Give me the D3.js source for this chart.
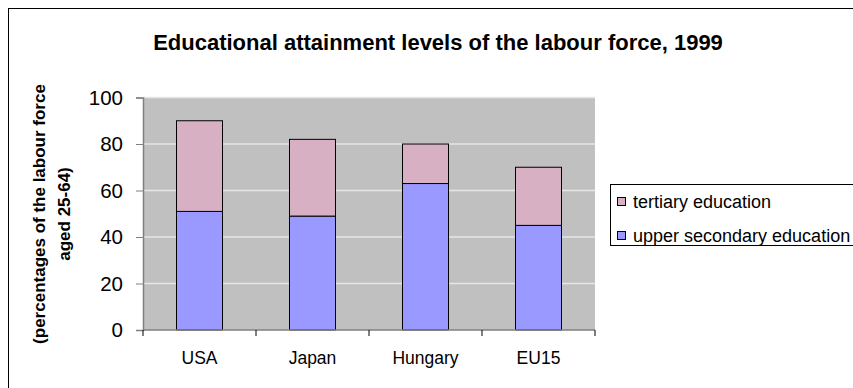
<!DOCTYPE html>
<html><head><meta charset="utf-8">
<script src="https://cdn.jsdelivr.net/npm/d3@7"></script>
<style>body{margin:0;background:#fff;}svg{display:block;font-family:"Liberation Sans",Arial,sans-serif;}</style>
</head><body>
<svg id="c" width="853" height="388"></svg>
<script>
const categories = ["USA", "Japan", "Hungary", "EU15"];
const upperSecondary = [51, 49, 63, 45];
const tertiary = [39, 33, 17, 25];
const seriesNames = ["upper secondary education", "tertiary education"];
const yTicks = [0, 20, 40, 60, 80, 100];
const colors = ["#9999FF", "#D8B0C4"];

const svg = d3.select("#c");
svg.append("rect").attr("x", 8.5).attr("y", 8.5).attr("width", 900).attr("height", 500)
  .attr("fill", "#fff").attr("stroke", "#000").attr("stroke-width", 1);

const L = 143, R = 595, T = 97.5, B = 330;
const x = d3.scaleBand().domain(categories).range([L, R]).paddingInner(0.59).paddingOuter(0.295);
const y = d3.scaleLinear().domain([0, 100]).range([B, T]);

svg.append("rect").attr("x", L).attr("y", T).attr("width", R - L).attr("height", B - T).attr("fill", "#C0C0C0");

svg.append("g").selectAll("line").data(yTicks.filter(d => d > 0)).join("line")
  .attr("x1", L).attr("x2", R).attr("y1", d => y(d)).attr("y2", d => y(d))
  .attr("stroke", "#E6E6E6").attr("stroke-width", 1.5);

const data = categories.map((c, i) => ({c, u: upperSecondary[i], t: tertiary[i]}));
const stack = d3.stack().keys(["u", "t"])(data);
svg.append("g").selectAll("g").data(stack).join("g").attr("fill", (d, i) => colors[i])
  .selectAll("rect").data(d => d).join("rect")
  .attr("x", d => Math.round(x(d.data.c)) + 0.5)
  .attr("width", Math.round(x.bandwidth()))
  .attr("y", d => y(d[1]))
  .attr("height", d => y(d[0]) - y(d[1]))
  .attr("stroke", "#000").attr("stroke-width", 1);

const yAxis = svg.append("g").attr("transform", `translate(${L},0)`)
  .call(d3.axisLeft(y).tickValues(yTicks).tickSize(7).tickPadding(13));
yAxis.select(".domain").attr("stroke", "#808080").attr("stroke-width", 1.5);
yAxis.selectAll(".tick line").attr("stroke", "#808080");
yAxis.selectAll("text").attr("font-size", 20.5).attr("fill", "#000").attr("font-family", "Liberation Sans, Arial, sans-serif");

const xb = d3.scaleOrdinal().domain(categories).range(categories.map(c => x(c) + x.bandwidth() / 2));
const xAxis = svg.append("g").attr("transform", `translate(0,${B})`);
xAxis.append("line").attr("x1", L).attr("x2", R).attr("y1", 0).attr("y2", 0).attr("stroke", "#808080").attr("stroke-width", 1.5);
const bounds = d3.range(categories.length + 1).map(i => L + i * (R - L) / categories.length);
xAxis.selectAll(".tk").data(bounds).join("line").attr("class", "tk")
  .attr("x1", d => d).attr("x2", d => d).attr("y1", 0).attr("y2", 6).attr("stroke", "#000");
xAxis.selectAll("text").data(categories).join("text")
  .attr("x", d => xb(d)).attr("y", 34).attr("text-anchor", "middle").attr("font-size", 17.5).text(d => d);

svg.append("text").attr("x", 438).attr("y", 50).attr("text-anchor", "middle")
  .attr("font-size", 22).attr("font-weight", "bold").text("Educational attainment levels of the labour force, 1999");

const yl = svg.append("text").attr("transform", `translate(0,214) rotate(-90)`)
  .attr("text-anchor", "middle").attr("font-size", 17).attr("font-weight", "bold");
yl.append("tspan").attr("x", 0).attr("y", 45).text("(percentages of the labour force");
yl.append("tspan").attr("x", 0).attr("y", 70).text("aged 25-64)");

const lg = svg.append("g");
lg.append("rect").attr("x", 610.5).attr("y", 184.5).attr("width", 300).attr("height", 61)
  .attr("fill", "#fff").attr("stroke", "#000");
const legendItems = [{n: seriesNames[1], c: colors[1]}, {n: seriesNames[0], c: colors[0]}];
legendItems.forEach((d, i) => {
  const cy = 202 + i * 34;
  lg.append("rect").attr("x", 617.5).attr("y", cy - 4.5).attr("width", 8).attr("height", 8)
    .attr("fill", d.c).attr("stroke", "#000");
  lg.append("text").attr("x", 633).attr("y", cy + 6).attr("font-size", 18).text(d.n);
});
</script>
</body></html>
